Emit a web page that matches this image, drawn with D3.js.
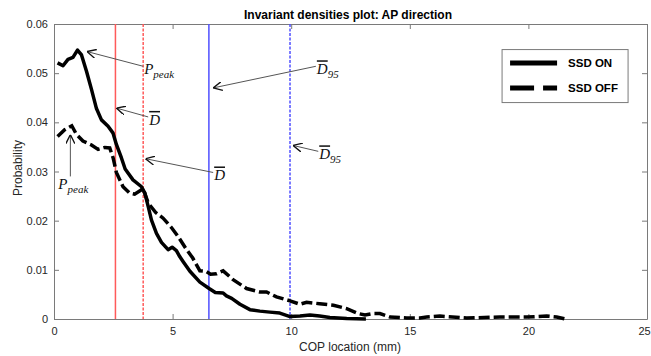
<!DOCTYPE html>
<html>
<head>
<meta charset="utf-8">
<script src="https://cdnjs.cloudflare.com/ajax/libs/d3/7.8.5/d3.min.js"></script>
<style>
body { margin: 0; background: #fff; }
text { font-family: "Liberation Sans", Arial, sans-serif; }
.axis path, .axis line { stroke: #7a7a7a; }
.axis text { fill: #262626; font-size: 11px; }
.math { font-family: "Liberation Serif", "DejaVu Serif", serif; font-style: italic; fill: #111; }
</style>
</head>
<body>
<script>

// SSD ON (solid) and SSD OFF (dashed) densities, [COP mm, probability]
var ssdOn = [[0.15,0.0521],[0.38,0.0515],[0.59,0.0528],[0.8,0.0532],[0.99,0.0547],[1.16,0.0537],
  [1.37,0.0504],[1.58,0.0467],[1.79,0.0428],[2.0,0.0405],[2.28,0.0392],[2.49,0.0378],[2.63,0.0355],
  [2.84,0.0328],[3.0,0.0305],[3.33,0.0283],[3.69,0.0269],[3.83,0.0256],[3.97,0.0229],[4.11,0.0201],
  [4.32,0.0174],[4.53,0.0156],[4.81,0.0141],[4.98,0.0146],[5.16,0.0139],[5.3,0.0127],[5.44,0.0117],
  [5.73,0.0097],[6.15,0.0075],[6.54,0.0062],[6.8,0.0054],[7.13,0.0053],[7.27,0.0047],[7.49,0.0042],
  [7.84,0.003],[8.26,0.0019],[8.68,0.0016],[9.1,0.0014],[9.52,0.0012],[9.95,0.0005],[10.37,0.0006],
  [10.79,0.0008],[11.2,0.0006],[11.63,0.0003],[12.34,0.0001],[13.15,0.0]];

var ssdOff = [[0.15,0.0371],[0.45,0.0385],[0.75,0.0393],[0.94,0.0376],[1.22,0.0362],[1.58,0.0354],
  [1.86,0.0345],[2.14,0.0349],[2.35,0.0348],[2.49,0.0328],[2.63,0.0298],[2.91,0.0269],[3.19,0.0256],
  [3.4,0.0254],[3.76,0.0265],[3.97,0.0236],[4.28,0.0217],[4.6,0.0205],[4.95,0.0186],[5.23,0.0168],
  [5.55,0.0144],[5.85,0.0124],[6.15,0.0098],[6.4,0.0097],[6.6,0.0091],[6.85,0.0092],[7.13,0.0098],
  [7.55,0.008],[8.12,0.0062],[8.67,0.0055],[8.96,0.0055],[9.38,0.0045],[9.95,0.0037],[10.37,0.003],
  [10.65,0.0034],[11.2,0.0031],[11.78,0.0028],[12.34,0.0021],[12.83,0.0011],[13.11,0.0008],
  [13.46,0.0011],[13.74,0.0011],[14.16,0.0004],[14.87,0.0002],[15.43,0.0002],[15.71,0.0004],
  [16.27,0.0006],[17.4,0.0002],[18.8,0.0004],[19.93,0.0004],[20.77,0.0006],[21.19,0.0004],[21.55,0.0]];

// mean distance and 95% distance, ON then OFF
var dMean = [2.59, 3.76];
var d95 = [6.53, 9.95];

var xTicks = [0, 5, 10, 15, 20, 25];
var yTicks = [0, 0.01, 0.02, 0.03, 0.04, 0.05, 0.06];
var legendLabels = ["SSD ON", "SSD OFF"];

// annotations: arrow tip and label anchor in data units
var notes = [
  {label: "P", sub: "peak", bar: false, tip: [1.39, 0.0544], tail: [3.76, 0.0514]},
  {label: "D", sub: "", bar: true, tip: [2.63, 0.0429], tail: [3.97, 0.0411]},
  {label: "D", sub: "", bar: true, tip: [3.86, 0.0326], tail: [6.71, 0.0298]},
  {label: "D", sub: "95", bar: true, tip: [6.71, 0.047], tail: [11.04, 0.0514]},
  {label: "D", sub: "95", bar: true, tip: [10.08, 0.0353], tail: [11.14, 0.0341]},
  {label: "P", sub: "peak", bar: false, tip: [0.69, 0.0375], tail: [0.69, 0.029]}
];

var margin = {top: 24, right: 4, bottom: 37, left: 54},
    width = 651 - margin.left - margin.right,
    height = 356 - margin.top - margin.bottom;

var x = d3.scaleLinear().domain([0, 25]).range([0, width]);
var y = d3.scaleLinear().domain([0, 0.06]).range([height, 0]);

var svg = d3.select("body").append("svg")
    .attr("width", 651)
    .attr("height", 356);

svg.append("defs").append("marker")
    .attr("id", "arr")
    .attr("viewBox", "0 0 10 10")
    .attr("refX", 10).attr("refY", 5)
    .attr("markerWidth", 9).attr("markerHeight", 9)
    .attr("markerUnits", "userSpaceOnUse")
    .attr("orient", "auto")
  .append("path")
    .attr("d", "M0,0 L10,5 L0,10")
    .attr("fill", "none")
    .attr("stroke", "#111")
    .attr("stroke-width", 1.5);

var main = svg.append("g")
    .attr("transform", "translate(" + margin.left + "," + margin.top + ")");

// axes (MATLAB box style, ticks pointing in)
var xAx = main.append("g")
    .attr("class", "axis")
    .attr("transform", "translate(0," + height + ")")
    .call(d3.axisBottom(x).tickValues(xTicks).tickSizeInner(-5).tickSizeOuter(0).tickPadding(8));
// last label sits on the window edge, nudge it in a little
xAx.selectAll(".tick text").filter(function(d) { return d == 25; }).attr("dx", -3);

main.append("g")
    .attr("class", "axis")
    .call(d3.axisLeft(y).tickValues(yTicks).tickFormat(d3.format("")).tickSizeInner(-5).tickSizeOuter(0).tickPadding(6));

main.append("g")
    .attr("class", "axis")
    .call(d3.axisTop(x).tickValues(xTicks).tickFormat("").tickSizeInner(-5).tickSizeOuter(0));

main.append("g")
    .attr("class", "axis")
    .attr("transform", "translate(" + width + ",0)")
    .call(d3.axisRight(y).tickValues(yTicks).tickFormat("").tickSizeInner(-5).tickSizeOuter(0));

// vertical reference lines
var vColors = ["#ff5a5a", "#5050ff"];
[dMean, d95].forEach(function(vals, k) {
    vals.forEach(function(v, i) {
	main.append("line")
	    .attr("x1", x(v)).attr("x2", x(v))
	    .attr("y1", 0).attr("y2", height)
	    .attr("stroke", vColors[k])
	    .attr("stroke-width", 1.5)
	    .attr("stroke-dasharray", i == 0 ? null : "3,1.5");
    });
});

var line = d3.line()
    .x(function(d) { return x(d[0]); })
    .y(function(d) { return y(d[1]); });

main.append("path")
    .datum(ssdOff)
    .attr("d", line)
    .attr("fill", "none")
    .attr("stroke", "#000")
    .attr("stroke-width", 3.5)
    .attr("stroke-dasharray", "11,4");

main.append("path")
    .datum(ssdOn)
    .attr("d", line)
    .attr("fill", "none")
    .attr("stroke", "#000")
    .attr("stroke-width", 3.5)
    .attr("stroke-linejoin", "round");

// annotations
notes.forEach(function(n) {
    var tx = x(n.tail[0]), ty = y(n.tail[1]);
    main.append("line")
	.attr("x1", tx).attr("y1", ty)
	.attr("x2", x(n.tip[0])).attr("y2", y(n.tip[1]))
	.attr("stroke", "#555")
	.attr("stroke-width", 1)
	.attr("marker-end", "url(#arr)");
    var vertical = n.tip[0] == n.tail[0];
    var t = main.append("text")
	.attr("class", "math")
	.attr("x", vertical ? tx - 12 : tx + 1)
	.attr("y", vertical ? ty + 13 : ty + 8)
	.style("font-size", "15px");
    t.append("tspan")
	.style("text-decoration", n.bar ? "overline" : null)
	.text(n.label);
    if (n.sub)
	t.append("tspan")
	    .attr("dy", 4)
	    .style("font-size", "11px")
	    .text(n.sub);
});

// legend
var leg = main.append("g")
    .attr("transform", "translate(" + (x(18.89)) + "," + (y(0.0548)) + ")");

leg.append("rect")
    .attr("width", 126).attr("height", 53)
    .attr("fill", "#fff")
    .attr("stroke", "#7a7a7a");

legendLabels.forEach(function(l, i) {
    leg.append("line")
	.attr("x1", 8).attr("x2", 55)
	.attr("y1", 13.5 + i * 25).attr("y2", 13.5 + i * 25)
	.attr("stroke", "#000")
	.attr("stroke-width", 5)
	.attr("stroke-dasharray", i == 0 ? null : "24,9,14");
    leg.append("text")
	.attr("x", 66).attr("y", 17.5 + i * 25)
	.style("font-size", "11.5px")
	.style("font-weight", "bold")
	.text(l);
});

// titles
svg.append("text")
    .attr("x", 348).attr("y", 19)
    .attr("text-anchor", "middle")
    .style("font-size", "12px")
    .style("font-weight", "bold")
    .text("Invariant densities plot: AP direction");

svg.append("text")
    .attr("x", 350).attr("y", 351)
    .attr("text-anchor", "middle")
    .style("font-size", "12px")
    .style("fill", "#262626")
    .text("COP location (mm)");

svg.append("text")
    .attr("transform", "translate(22,168) rotate(-90)")
    .attr("text-anchor", "middle")
    .style("font-size", "12px")
    .style("fill", "#262626")
    .text("Probability");

</script>
</body>
</html>
